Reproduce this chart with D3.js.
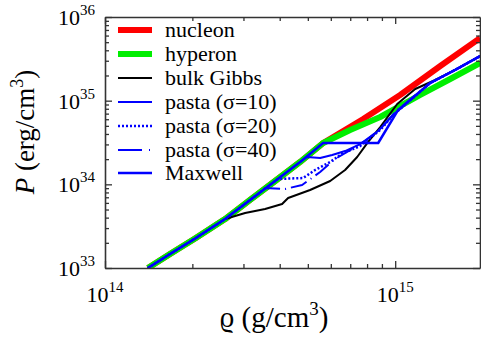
<!DOCTYPE html>
<html>
<head>
<meta charset="utf-8">
<script src="https://cdn.jsdelivr.net/npm/d3@7"></script>
<style>
body { margin: 0; background: #fff; }
</style>
</head>
<body>
<svg id="chart" width="481" height="347"></svg>
<script>
// data: density rho (g/cm^3), pressure P (erg/cm^3)
var commonRho = [1.406e14, 1.675e14, 2.043e14, 2.593e14, 3.162e14, 3.857e14, 4.704e14, 5.646e14];
var commonP   = [1e33, 1.47e33, 2.25e33, 3.85e33, 6.5e33, 1.096e34, 1.85e34, 3.12e34];

var nucleonRho = [7.757e14, 1.040e15, 1.43e15, 1.964e15];
var nucleonP   = [6.04e34, 1.17e35, 2.6e35, 5.61e35];

var hyperonRho = [6.995e14, 8.88e14, 1.22e15, 1.547e15, 1.964e15];
var hyperonP   = [4.46e34, 6.38e34, 1.17e35, 1.815e35, 2.82e35];

var quarkRho = [1.32e15, 1.61e15, 1.964e15];
var quarkP   = [1.626e35, 2.33e35, 3.42e35];

var gibbsRho = [3.04e14, 3.562e14, 4.077e14, 4.276e14, 5.09e14, 5.97e14, 6.72e14, 7.396e14, 8.07e14, 8.88e14, 1.016e15, 1.172e15, 1.374e15];
var gibbsP   = [4.55e33, 5.07e33, 5.82e33, 6.87e33, 8.56e33, 1.096e34, 1.484e34, 2.12e34, 3.21e34, 4.84e34, 9.13e34, 1.378e35, 1.767e35];

var pasta10Rho = [4.973e14, 5.513e14, 6.065e14, 6.72e14, 7.574e14, 8.738e14, 9.84e14];
var pasta10P   = [2.12e34, 2.065e34, 2.24e34, 2.50e34, 3.03e34, 4.34e34, 6.74e34];

var pasta20Rho = [3.95e14, 4.817e14, 5.298e14, 5.97e14, 6.617e14, 7.574e14, 8.88e14, 9.84e14];
var pasta20P   = [1.158e34, 1.19e34, 1.484e34, 1.85e34, 2.37e34, 2.87e34, 4.46e34, 6.74e34];

var pasta40Rho = [3.562e14, 4.175e14, 4.778e14, 5.513e14, 6.21e14, 6.995e14, 7.88e14, 8.88e14, 1e15];
var pasta40P   = [9.04e33, 8.8e33, 9.82e33, 1.405e34, 2.01e34, 2.57e34, 3.30e34, 4.59e34, 7.32e34];

var maxwellRho = [8.738e14, 1.024e15];
var maxwellP   = [3.12e34, 7.74e34];

var xMajor = [1e14, 1e15];
var yMajor = [1e33, 1e34, 1e35, 1e36];
var xLabels = ["14", "15"];
var yLabels = ["33", "34", "35", "36"];
var legendNames = ["nucleon", "hyperon", "bulk Gibbs", "pasta (\u03c3=10)", "pasta (\u03c3=20)", "pasta (\u03c3=40)", "Maxwell"];

var serif = "'Liberation Serif'";
var svg = d3.select("#chart");
var x = d3.scaleLog().domain([1e14, 1.96e15]).range([105, 480]);
var y = d3.scaleLog().domain([1e33, 1e36]).range([268, 17]);

function zip(r, p) { return r.map(function(d, i) { return [d, p[i]]; }); }
function before(r0) {
  return zip(commonRho, commonP).filter(function(d) { return d[0] < r0; });
}

var series = [
  {pts: zip(commonRho, commonP).concat(zip(nucleonRho, nucleonP)), color: "#ff0000", w: 6, dash: null},
  {pts: zip(commonRho, commonP).concat(zip(hyperonRho, hyperonP)), color: "#00ee00", w: 6, dash: null},
  {pts: before(2.7e14).concat(zip(gibbsRho, gibbsP)).concat(zip(quarkRho, quarkP).slice(1)), color: "#000", w: 2, dash: null},
  {pts: before(pasta10Rho[0]).concat(zip(pasta10Rho, pasta10P)).concat(zip(quarkRho, quarkP)), color: "#0000ff", w: 2, dash: null},
  {pts: before(pasta20Rho[0]).concat(zip(pasta20Rho, pasta20P)).concat(zip(quarkRho, quarkP)), color: "#0000ff", w: 2.5, dash: "2,2"},
  {pts: before(pasta40Rho[0]).concat(zip(pasta40Rho, pasta40P)).concat(zip(quarkRho, quarkP)), color: "#0000ff", w: 2, dash: "17,5,1,5"},
  {pts: zip(commonRho, commonP).concat(zip(maxwellRho, maxwellP)).concat(zip(quarkRho, quarkP)), color: "#0000ff", w: 2.5, dash: null}
];

svg.append("clipPath").attr("id", "clip")
  .append("rect").attr("x", 105).attr("y", 17).attr("width", 375).attr("height", 251);

var line = d3.line()
  .x(function(d) { return x(d[0]); })
  .y(function(d) { return y(d[1]); });

svg.append("g").attr("clip-path", "url(#clip)")
  .selectAll("path")
  .data(series)
  .enter().append("path")
    .attr("d", function(d) { return line(d.pts); })
    .attr("fill", "none")
    .attr("stroke", function(d) { return d.color; })
    .attr("stroke-width", function(d) { return d.w; })
    .attr("stroke-dasharray", function(d) { return d.dash; })
    .attr("stroke-linejoin", "round");

// ticks, pointing inward on all four sides
var xMinor = [], yMinor = [];
[1e14, 1e15].forEach(function(b) { for (var k = 2; k < 10; k++) if (k * b < 1.96e15) xMinor.push(k * b); });
[1e33, 1e34, 1e35].forEach(function(b) { for (var k = 2; k < 10; k++) yMinor.push(k * b); });

var sides = [
  {a: d3.axisBottom(x), t: "translate(0,268)", minor: xMinor, major: xMajor},
  {a: d3.axisTop(x), t: "translate(0,17)", minor: xMinor, major: xMajor},
  {a: d3.axisLeft(y), t: "translate(105,0)", minor: yMinor, major: yMajor},
  {a: d3.axisRight(y), t: "translate(480,0)", minor: yMinor, major: yMajor}
];
sides.forEach(function(s) {
  var g = svg.append("g").attr("transform", s.t);
  g.call(s.a.tickValues(s.minor).tickSizeInner(-4).tickSizeOuter(0).tickFormat(""));
  g.append("g").call(s.a.tickValues(s.major).tickSizeInner(-7).tickSizeOuter(0).tickFormat(""))
    .select(".domain").remove();
  g.selectAll("line").attr("stroke", "#333").attr("stroke-width", 1.3);
  g.select(".domain").attr("stroke", "#333").attr("stroke-width", 1.6);
});

// tick labels 10^n
var yl = svg.append("g").selectAll("text").data(yMajor).enter().append("text")
  .attr("x", 95).attr("y", function(d) { return y(d) + 8; })
  .attr("text-anchor", "end").style("font-family", serif).style("font-size", "22px");
yl.append("tspan").text("10");
yl.append("tspan").attr("dy", -10).style("font-size", "15px").text(function(d, i) { return yLabels[i]; });

var xl = svg.append("g").selectAll("text").data(xMajor).enter().append("text")
  .attr("x", function(d) { return x(d); }).attr("y", 302)
  .attr("text-anchor", "middle").style("font-family", serif).style("font-size", "22px");
xl.append("tspan").text("10");
xl.append("tspan").attr("dy", -10).style("font-size", "15px").text(function(d, i) { return xLabels[i]; });

// axis titles
var yt = svg.append("text").attr("transform", "translate(34,132) rotate(-90)")
  .attr("text-anchor", "middle").style("font-family", serif).style("font-size", "27px");
yt.append("tspan").style("font-style", "italic").text("P");
yt.append("tspan").text(" (erg/cm");
yt.append("tspan").attr("dy", -11).style("font-size", "18px").text("3");
yt.append("tspan").attr("dy", 11).text(")");

var xt = svg.append("text").attr("x", 274).attr("y", 327)
  .attr("text-anchor", "middle").style("font-family", serif).style("font-size", "29px");
xt.append("tspan").text("\u03f1 (g/cm");
xt.append("tspan").attr("dy", -12).style("font-size", "19px").text("3");
xt.append("tspan").attr("dy", 12).text(")");

// legend
var leg = svg.append("g").selectAll("g").data(series).enter().append("g")
  .attr("transform", function(d, i) { return "translate(0," + [30, 54, 78, 102, 126, 150, 173][i] + ")"; });
leg.append("line").attr("x1", 118).attr("x2", 152)
  .attr("stroke", function(d) { return d.color; })
  .attr("stroke-width", function(d) { return d.w; })
  .attr("stroke-dasharray", function(d, i) { return i === 5 ? "24,7,1,7" : d.dash; });
leg.append("text").attr("x", 165).attr("y", 7)
  .style("font-family", serif).style("font-size", "22px")
  .text(function(d, i) { return legendNames[i]; });
</script>
</body>
</html>
